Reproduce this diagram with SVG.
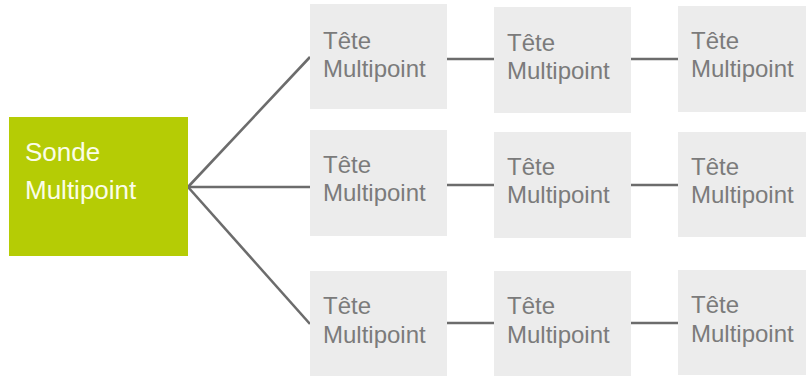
<svg xmlns="http://www.w3.org/2000/svg" width="806" height="376" viewBox="0 0 806 376">
<style>
.head rect{fill:#ececec}
.head text{font-family:"Liberation Sans",Arial,sans-serif;font-size:24px;fill:#7b7b7b}
.probe rect{fill:#b5cc05}
.probe text{font-family:"Liberation Sans",Arial,sans-serif;font-size:26px;fill:#fbfde8}
#connectors line{stroke:#6c6c6c;stroke-width:2.6;fill:none}
</style>
<rect width="806" height="376" fill="#ffffff"/>
<g id="connectors">
<line x1="188" y1="187" x2="310" y2="57"/>
<line x1="188" y1="187" x2="310" y2="187"/>
<line x1="188" y1="187" x2="310" y2="324"/>
<line x1="447" y1="59" x2="494" y2="59"/>
<line x1="631" y1="59" x2="678" y2="59"/>
<line x1="447" y1="185" x2="494" y2="185"/>
<line x1="631" y1="185" x2="678" y2="185"/>
<line x1="447" y1="323" x2="494" y2="323"/>
<line x1="631" y1="323" x2="678" y2="323"/>
</g>
<g id="sonde" class="probe">
<rect x="9" y="117" width="179" height="139"/>
<text x="25" y="161">Sonde</text>
<text x="25" y="199">Multipoint</text>
</g>
<g id="tete-1-1" class="head"><rect x="310" y="4" width="137" height="105"/><text x="323" y="49">Tête</text><text x="323" y="77">Multipoint</text></g>
<g id="tete-1-2" class="head"><rect x="494" y="7" width="137" height="106"/><text x="507" y="51">Tête</text><text x="507" y="79">Multipoint</text></g>
<g id="tete-1-3" class="head"><rect x="678" y="6" width="128" height="106"/><text x="691" y="49">Tête</text><text x="691" y="77">Multipoint</text></g>
<g id="tete-2-1" class="head"><rect x="310" y="130" width="137" height="106"/><text x="323" y="173">Tête</text><text x="323" y="201">Multipoint</text></g>
<g id="tete-2-2" class="head"><rect x="494" y="132" width="137" height="106"/><text x="507" y="175">Tête</text><text x="507" y="203">Multipoint</text></g>
<g id="tete-2-3" class="head"><rect x="678" y="132" width="128" height="105"/><text x="691" y="175">Tête</text><text x="691" y="203">Multipoint</text></g>
<g id="tete-3-1" class="head"><rect x="310" y="271" width="137" height="105"/><text x="323" y="314">Tête</text><text x="323" y="343">Multipoint</text></g>
<g id="tete-3-2" class="head"><rect x="494" y="271" width="137" height="105"/><text x="507" y="314">Tête</text><text x="507" y="343">Multipoint</text></g>
<g id="tete-3-3" class="head"><rect x="678" y="270" width="128" height="105"/><text x="691" y="313">Tête</text><text x="691" y="342">Multipoint</text></g>
</svg>
